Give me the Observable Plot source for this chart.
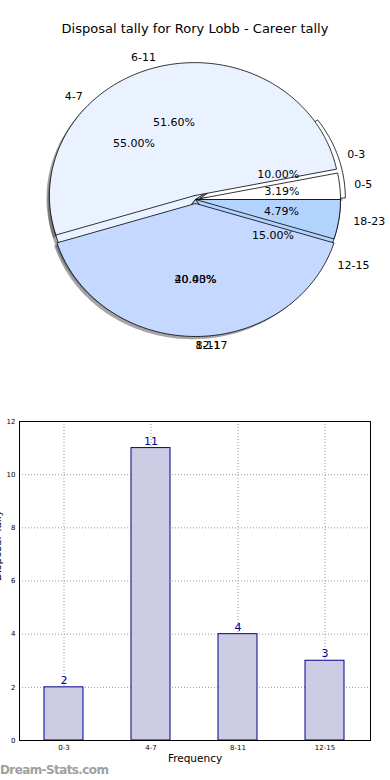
<!DOCTYPE html>
<html>
<head>
<meta charset="utf-8">
<script src="https://cdn.jsdelivr.net/npm/d3@7"></script>
<script src="https://cdn.jsdelivr.net/npm/@observablehq/plot@0.6"></script>
<style>
  html, body { margin: 0; padding: 0; background: #fff; }
  #root { position: relative; width: 390px; height: 780px; overflow: hidden; font-family: "DejaVu Sans", sans-serif; }
  #title { position: absolute; left: 0; top: 21px; width: 390px; text-align: center; font-size: 13px; color: #000; }
  #pie { position: absolute; left: 0; top: 40px; }
  #bar { position: absolute; left: 0; top: 400px; }
  #mark { position: absolute; left: 0; top: 763px; font-size: 12px; font-weight: bold; color: #a0a0a0; letter-spacing: -0.6px; }
</style>
</head>
<body>
<div id="root">
  <div id="title">Disposal tally for Rory Lobb - Career tally</div>
  <div id="pie"></div>
  <div id="bar"></div>
  <div id="mark">Dream-Stats.com</div>
</div>
<script>
// ---- data ----
const careerCats = ["0-3", "4-7", "8-11", "12-15"];
const careerValues = [2, 11, 4, 3];
const disposalCats = ["0-5", "6-11", "12-17", "18-23"];
const disposalPct = [3.19, 51.60, 40.43, 4.79];
const pieColors = ["#ffffff", "#ebf2ff", "#c5d8ff", "#b3d3ff"];
const careerExplode = [0.035, 0, 0, 0];
const disposalExplode = [0, 0.03, 0.03, 0];
const yTicks = [0, 2, 4, 6, 8, 10, 12];

// ---- pie geometry from the data ----
function wedges(cats, values, explode, group, isPercent) {
  const total = d3.sum(values);
  let acc = 0;
  return cats.map((c, i) => {
    const a0 = acc / total * 2 * Math.PI;
    acc += values[i];
    const a1 = acc / total * 2 * Math.PI;
    const mid = (a0 + a1) / 2;
    const pct = isPercent ? values[i] : values[i] / total * 100;
    return {group, cat: c, value: values[i], pct, a0, a1, mid,
            ox: explode[i] * Math.cos(mid), oy: explode[i] * Math.sin(mid), color: pieColors[i]};
  });
}
function polygon(w, dx = 0, dy = 0) {
  const pts = [{x: w.ox + dx, y: w.oy + dy}];
  const n = Math.max(2, Math.ceil((w.a1 - w.a0) / (Math.PI / 180)));
  for (let k = 0; k <= n; k++) {
    const a = w.a0 + (w.a1 - w.a0) * k / n;
    pts.push({x: w.ox + dx + Math.cos(a), y: w.oy + dy + Math.sin(a)});
  }
  pts.push({x: w.ox + dx, y: w.oy + dy});
  return pts;
}
const wA = wedges(careerCats, careerValues, careerExplode, "A", false);
const wB = wedges(disposalCats, disposalPct, disposalExplode, "B", true);
const allW = [...wA, ...wB];

const pieMarks = [];
for (const w of allW) {
  pieMarks.push(Plot.line(polygon(w, -0.02, -0.02), {x: "x", y: "y", fill: "#4c4c50", fillOpacity: 0.5, stroke: "none"}));
}
for (const w of allW) {
  pieMarks.push(Plot.line(polygon(w), {x: "x", y: "y", fill: w.color, stroke: "#000", strokeWidth: 0.8}));
}
const labels = allW.map(w => ({text: w.cat, x: 1.1 * Math.cos(w.mid), y: 1.1 * Math.sin(w.mid), right: Math.cos(w.mid) < -0.001}));
const pcts = allW.map(w => ({text: w.pct.toFixed(2) + "%", x: 0.6 * Math.cos(w.mid), y: 0.6 * Math.sin(w.mid)}));
pieMarks.push(Plot.text(labels.filter(d => !d.right), {x: "x", y: "y", text: "text", textAnchor: "start", fontSize: 11, fill: "#000"}));
pieMarks.push(Plot.text(labels.filter(d => d.right), {x: "x", y: "y", text: "text", textAnchor: "end", fontSize: 11, fill: "#000"}));
pieMarks.push(Plot.text(pcts, {x: "x", y: "y", text: "text", textAnchor: "middle", fontSize: 11, fill: "#000"}));

const pie = Plot.plot({
  width: 390, height: 360,
  margin: 0,
  x: {domain: [-1, 1], range: [50, 340], axis: null},
  y: {domain: [-1, 1], range: [292, 26], axis: null},
  style: {fontFamily: "DejaVu Sans, sans-serif", background: "transparent"},
  marks: pieMarks
});
document.getElementById("pie").appendChild(pie);

// ---- bar chart ----
const barData = careerCats.map((c, i) => ({cat: c, value: careerValues[i]}));
const bar = Plot.plot({
  width: 390, height: 380,
  marginLeft: 19, marginRight: 20, marginTop: 21, marginBottom: 40,
  style: {fontFamily: "DejaVu Sans, sans-serif", fontSize: "7px", background: "transparent", color: "#000"},
  x: {type: "band", domain: careerCats, paddingInner: 0.55, paddingOuter: 0.275, tickSize: 0, tickPadding: 5, label: null},
  y: {domain: [0, 12], ticks: yTicks, tickSize: 0, tickPadding: 4, label: null},
  marks: [
    Plot.ruleY(yTicks.slice(1, -1), {stroke: "#999", strokeDasharray: "1,2"}),
    Plot.ruleX(careerCats, {x: d => d, stroke: "#999", strokeDasharray: "1,2"}),
    Plot.barY(barData, {x: "cat", y: "value", fill: "#ccccE5", stroke: "#00008b", strokeWidth: 1}),
    Plot.text(barData, {x: "cat", y: "value", text: d => String(d.value), dy: -7, fill: "#00008b", fontSize: 11}),
    Plot.frame({stroke: "#000"}),
    Plot.text(["Frequency"], {frameAnchor: "bottom", dy: 21, text: d => d, fontSize: 10.5, fill: "#000"}),
    Plot.text(["Disposal Tally"], {frameAnchor: "left", dx: -19, rotate: -90, lineAnchor: "bottom", text: d => d, fontSize: 10.5, fill: "#000"})
  ]
});
document.getElementById("bar").appendChild(bar);
</script>
</body>
</html>
